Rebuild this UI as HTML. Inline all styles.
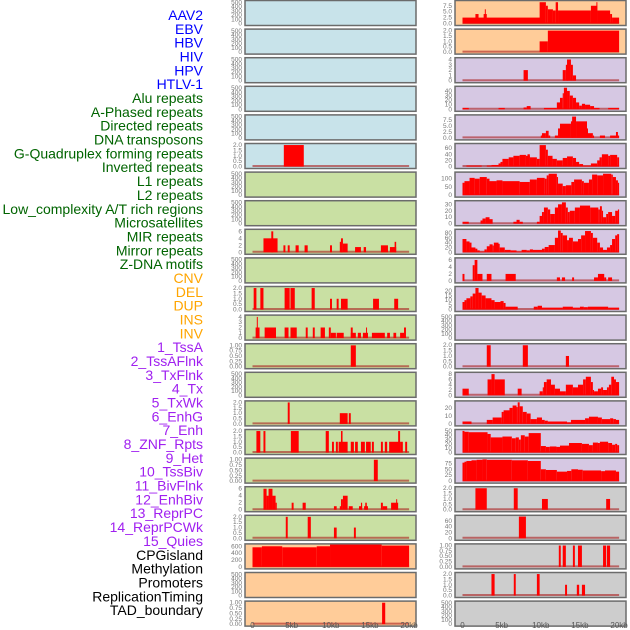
<!DOCTYPE html>
<html><head><meta charset="utf-8">
<style>
html,body{margin:0;padding:0;background:#fff;}
svg{display:block;font-family:"Liberation Sans",sans-serif;}
</style></head>
<body>
<svg id="chart" width="630" height="630" viewBox="0 0 630 630" xmlns="http://www.w3.org/2000/svg"></svg>
<script>
// ---- data (positions in kb, values on each panel's y scale) ----
const rowLabels = ["AAV2","EBV","HBV","HIV","HPV","HTLV-1","Alu repeats","A-Phased repeats","Directed repeats","DNA transposons","G-Quadruplex forming repeats","Inverted repeats","L1 repeats","L2 repeats","Low_complexity A/T rich regions","Microsatellites","MIR repeats","Mirror repeats","Z-DNA motifs","CNV","DEL","DUP","INS","INV","1_TssA","2_TssAFlnk","3_TxFlnk","4_Tx","5_TxWk","6_EnhG","7_Enh","8_ZNF_Rpts","9_Het","10_TssBiv","11_BivFlnk","12_EnhBiv","13_ReprPC","14_ReprPCWk","15_Quies","CPGisland","Methylation","Promoters","ReplicationTiming","TAD_boundary"];
const labelGroups = [6,13,5,15,5];
const xTickKb = [0,5,10,15,20];
const xTickLabels = ["0","5kb","10kb","15kb","20kb"];

const L5 = [[4.0,6.55,2]];
const L8 = [[1.4,3.2,4],[2.4,2.65,6],[3.95,4.2,2],[4.5,4.75,2],[5.5,5.9,2],[6.65,7.05,2],[9.9,10.15,2],[11.15,11.5,3],[11.3,11.55,4],[11.55,12.15,2.5],[13.1,13.85,1.5],[14.2,14.5,1.5],[16.4,17.3,2],[17.55,18.35,1.5],[18.15,18.35,3]];
const L10 = [[0.15,0.5,2],[1.0,1.4,2],[4.1,4.75,2],[4.85,5.4,2],[7.55,7.95,2],[9.9,10.15,1],[10.75,11.0,1],[11.3,12.15,1],[15.4,16.15,1],[18.1,18.6,1]];
const L11 = [[0.4,0.9,2],[0.55,0.65,4],[1.55,3.0,2],[4.1,4.6,2],[4.85,5.65,2],[6.8,7.05,2],[7.7,7.95,2],[8.7,9.25,2],[9.75,10.0,2],[10.0,10.65,1],[10.75,11.65,1],[12.55,13.2,1],[12.55,12.8,2],[13.45,13.85,1],[14.1,14.75,1],[14.5,14.6,2],[15.25,16.9,1],[17.2,17.55,1],[18.0,18.35,1],[18.85,19.35,1],[19.35,19.6,2]];
const L12 = [[12.55,13.2,1]];
const L14 = [[4.5,4.75,2],[11.15,12.15,1],[12.3,12.55,1]];
const L15 = [[0.5,1.0,2],[1.4,1.65,2],[4.9,5.9,2],[9.35,9.75,2],[10.15,10.4,1],[10.65,10.9,1],[11.0,12.15,1],[11.3,11.5,2],[12.55,12.95,1],[13.1,13.45,1],[13.85,14.35,1],[14.5,15.1,1],[15.25,15.5,1],[16.4,16.65,1],[16.9,17.2,1],[17.45,18.85,1],[18.6,18.85,2],[18.85,19.2,1],[19.5,19.75,1]];
const L16 = [[15.5,16.0,1]];
const L17 = [[1.4,1.8,6],[1.8,2.05,4],[2.05,2.55,6],[2.55,2.95,4],[2.95,3.1,2],[5.0,5.25,2],[6.4,6.8,2],[10.4,10.75,1],[11.15,11.3,1],[11.3,11.55,3],[11.55,12.15,4],[12.3,12.8,1],[13.6,14.0,1],[13.85,14.0,2],[14.25,14.75,1],[14.4,14.6,2],[16.4,16.65,2],[16.65,17.2,1],[17.7,18.6,2],[18.35,18.45,3]];
const L18 = [[4.25,4.5,2],[7.05,7.45,2],[10.4,10.75,1],[12.95,13.2,1]];
const L19 = [[0,1.2,570],[1.2,3.8,600],[3.8,8.2,570],[8.2,9.9,600],[9.9,16.5,650],[16.5,20.0,620]];
const L21 = [[16.55,16.95,1]];

const R0 = [[0,10,2.5],[1.65,2.05,4],[2.7,3.1,4],[2.85,2.95,6],[9.85,10.65,9],[10.65,10.9,7.5],[10.9,11.55,6],[11.55,11.9,5.5],[11.9,12.2,9],[12.2,16.4,5.5],[16.4,17.2,7.5],[17.1,17.2,9],[17.2,18.85,5.5],[18.85,19.1,4],[19.1,20.0,2.5]];
const R1 = [[9.85,10.9,1],[10.9,20.0,2]];
const R2 = [[7.8,8.35,2],[12.8,13.2,2],[13.2,13.45,3],[13.35,13.85,4],[13.85,14.1,3],[14.1,14.5,1]];
const R3 = [[0,0.8,3],[4.6,5.4,3],[7.8,8.2,4],[8.2,8.7,7],[10.4,12.05,3],[12.05,12.45,15],[12.45,12.8,25],[12.8,12.95,35],[12.95,13.35,47],[13.35,13.7,40],[13.7,14.1,30],[14.1,14.5,25],[14.5,14.9,15],[14.9,15.25,8],[15.25,15.65,12],[15.65,16.3,10],[16.3,16.8,7],[16.8,17.5,3],[18.6,20.0,3]];
const R4 = [[10.0,10.15,1],[10.15,10.65,2],[10.65,11.0,3],[11.0,11.2,1],[11.8,12.2,1],[12.2,12.45,4],[12.45,13.85,6],[13.85,14.1,7],[14.0,14.5,9],[14.5,15.9,7],[15.9,16.0,4],[16.0,16.65,2],[16.65,16.8,1],[17.55,18.2,1],[18.85,19.6,1],[19.6,19.85,2.5],[19.85,20.0,1]];
const R5 = [[0.5,2.45,3],[3.1,3.7,3],[3.7,4.6,5],[4.6,4.85,10],[4.85,5.1,15],[5.1,5.9,25],[5.9,6.5,30],[6.5,7.3,35],[7.3,8.1,38],[8.1,8.6,35],[8.3,8.6,40],[8.6,9.5,30],[9.5,9.85,25],[9.85,10.65,70],[10.65,10.9,55],[10.9,11.5,35],[11.5,12.05,25],[12.05,12.8,20],[12.8,13.35,28],[13.35,14.1,33],[14.1,14.5,28],[14.5,14.9,15],[14.9,15.4,8],[15.4,16.4,3],[16.4,17.2,10],[17.2,17.5,20],[17.5,17.8,30],[17.8,18.6,40],[18.6,18.85,35],[18.85,19.75,38],[19.75,20.0,30]];
const R6 = [[0,0.25,75],[0.25,0.9,85],[0.9,1.55,105],[1.55,2.2,100],[2.2,3.1,110],[3.1,3.45,100],[3.45,4.35,85],[4.35,5.1,90],[5.1,7.3,85],[7.3,8.6,80],[8.6,9.5,95],[9.5,10.5,105],[10.5,10.75,100],[10.75,11.0,120],[11.0,12.05,130],[12.05,12.2,110],[12.2,12.8,70],[12.8,13.2,55],[13.2,13.9,60],[13.9,14.25,80],[14.25,15.25,95],[15.25,15.5,85],[15.5,16.15,75],[16.15,16.55,95],[16.55,17.2,125],[17.2,17.95,120],[17.95,19.0,130],[19.0,19.2,125],[19.2,19.6,110],[19.6,19.85,90],[19.85,20.0,75]];
const R7 = [[0,0.8,3],[2.3,2.55,5],[2.55,2.95,8],[2.95,3.45,10],[3.45,3.85,7],[6.5,6.9,3],[6.9,7.3,6],[7.3,7.7,3],[9.5,9.85,3],[9.85,10.15,12],[10.15,10.4,18],[10.4,10.9,25],[10.9,11.2,22],[11.2,11.8,15],[11.8,12.2,25],[12.2,12.7,30],[12.7,13.2,33],[13.2,13.45,25],[13.45,13.7,18],[13.7,14.35,20],[14.35,15.0,25],[15.0,16.3,28],[16.3,17.35,25],[17.35,17.55,22],[17.55,17.8,27],[17.8,17.95,20],[17.95,18.35,10],[18.35,18.6,15],[18.6,19.1,18],[19.1,19.5,12],[19.5,19.85,20],[19.85,20.0,22]];
const R8 = [[0,0.5,55],[0.5,0.9,45],[0.9,1.15,40],[1.15,1.65,20],[1.65,1.9,15],[1.9,2.2,8],[2.2,2.8,3],[2.8,3.1,12],[3.1,3.45,25],[3.45,3.85,33],[3.85,4.0,28],[4.0,4.6,40],[4.6,4.75,35],[4.75,5.4,20],[5.4,6.15,10],[6.15,6.9,8],[6.9,7.55,3],[7.55,8.2,10],[8.2,8.6,8],[8.6,9.0,12],[9.0,10.15,10],[10.15,10.5,15],[10.5,11.0,22],[11.0,11.8,30],[11.8,12.2,60],[12.2,12.55,90],[12.55,12.8,80],[12.8,13.35,70],[13.35,13.6,50],[13.6,14.1,60],[14.1,14.75,45],[14.75,15.15,55],[15.15,15.65,70],[15.65,16.4,88],[16.4,16.65,80],[16.65,17.2,60],[17.2,17.55,40],[17.55,17.95,20],[17.95,18.45,10],[18.45,18.85,20],[18.85,19.1,30],[19.1,19.5,55],[19.5,19.75,70],[19.75,20.0,75]];
const R9 = [[0,0.25,2],[1.3,1.55,4.5],[1.55,1.9,6],[1.9,2.55,2],[3.1,3.7,2],[5.5,6.8,2],[12.05,12.45,1],[12.7,13.1,1],[14.0,14.25,1],[16.8,17.3,1],[17.3,18.1,2],[18.1,18.35,1],[18.6,19.1,1]];
const R10 = [[0,0.25,8],[0.25,0.5,10],[0.5,1.0,12],[1.0,1.3,14],[1.3,1.65,17],[1.65,2.05,23],[2.05,2.45,18],[2.45,2.95,15],[2.95,3.7,12],[3.7,4.1,10],[4.1,4.85,8],[4.85,5.25,9],[5.25,5.5,7],[5.5,7.05,3],[9.1,9.6,3],[9.6,10.15,4],[10.15,12.8,2],[12.8,14.1,3],[14.1,15.0,2],[15.0,15.5,3],[15.5,16.0,2.5],[16.0,18.6,3],[18.6,20.0,2]];
const R12 = [[3.1,3.6,2],[7.7,8.35,2],[13.2,13.6,1]];
const R13 = [[0,0.8,2.5],[3.2,3.7,6],[3.7,4.1,8],[4.1,5.4,6],[7.05,7.55,2.5],[9.85,10.25,1.5],[10.25,10.4,3],[10.4,10.75,5],[10.75,11.3,6],[11.3,11.8,4],[11.8,12.45,2.5],[12.45,13.2,1.5],[13.2,14.1,4],[14.1,14.75,3],[14.75,15.4,4],[15.4,15.75,6],[15.75,16.4,7],[16.4,16.65,5],[16.65,16.8,2],[16.8,17.3,1.5],[17.3,17.7,2.5],[17.7,17.95,3],[17.95,18.45,2],[18.45,18.7,3],[18.7,19.0,4],[19.0,19.35,7],[19.35,19.6,6],[19.6,20.0,5]];
const R14 = [[0,1.15,3],[3.1,3.85,5],[3.85,5.0,8],[5.0,5.25,15],[5.25,6.0,17],[6.0,6.4,20],[6.4,6.9,23],[6.9,7.05,21],[7.05,7.3,27],[7.3,7.7,22],[7.7,8.2,15],[8.2,8.7,13],[8.7,9.5,6],[9.5,10.15,8],[10.15,10.5,5],[10.5,10.9,4],[10.9,13.35,3],[13.35,13.85,2],[13.85,15.65,5],[15.65,16.15,7],[16.15,17.3,9],[17.3,17.8,8],[17.8,18.85,6],[18.85,19.25,7],[19.25,19.6,6],[19.6,20.0,5]];
const R15 = [[0,0.25,50],[0.25,0.8,48],[0.8,3.2,47],[3.2,3.6,43],[3.6,5.1,35],[5.1,6.3,37],[6.3,6.8,33],[6.8,7.2,35],[7.2,7.45,30],[7.45,7.95,40],[7.95,8.45,37],[8.45,10.0,45],[10.0,10.65,15],[10.65,11.15,13],[11.15,12.0,14],[12.0,12.45,13],[12.45,13.6,16],[13.6,15.25,22],[15.25,16.15,20],[16.15,16.65,17],[16.65,17.3,23],[17.3,17.55,22],[17.55,18.6,25],[18.6,19.1,22],[19.1,19.5,18],[19.5,19.75,20],[19.75,20.0,17]];
const R16 = [[0,0.25,78],[0.25,0.5,82],[0.5,1.15,85],[1.15,1.8,88],[1.8,2.55,90],[2.55,3.1,92],[3.1,6.3,90],[6.3,8.35,88],[8.35,10.0,85],[10.0,10.65,50],[10.65,12.05,47],[12.05,13.35,40],[13.35,13.9,43],[13.9,14.75,50],[14.75,15.35,48],[15.35,17.7,45],[17.7,18.2,42],[18.2,19.6,45],[19.6,20.0,40]];
const R17 = [[1.65,3.1,2],[6.55,7.05,2],[10.15,10.9,1],[18.35,18.85,1]];
const R18 = [[7.2,8.1,75]];
const R19 = [[12.3,12.55,1],[12.8,13.2,1],[14.1,14.35,1],[14.75,15.25,1],[17.95,18.35,1],[18.45,18.85,1]];
const R20 = [[3.7,4.1,2],[6.55,6.8,2],[9.5,9.85,2],[13.1,13.35,1],[14.6,14.9,1],[15.25,15.65,1]];

const T500 = [0,100,200,300,400,500];
const T2 = [0,0.5,1,1.5,2];
const T1 = [0,0.25,0.5,0.75,1];
const T6 = [0,2,4,6];
const T4 = [0,1,2,3,4];
const T75 = [0,2.5,5,7.5];

// ---- layout helpers ----
const svg = document.getElementById('chart');
const NS = 'http://www.w3.org/2000/svg';
function mk(tag, attrs, parent){ const e=document.createElementNS(NS,tag); for(const k in attrs) e.setAttribute(k,attrs[k]); (parent||svg).appendChild(e); return e; }

const BG = {blue:'#c8e3ea', green:'#c9e0a3', orange:'#ffcc99', purple:'#d6c8e3', gray:'#cdcdcd'};
function fmt(v, ticks){
  const st = ticks[1]-ticks[0];
  if (st===0.25) return v.toFixed(2);
  if (st<1 || st===2.5) return v.toFixed(1);
  return String(v);
}
const leftPanels = [];
for(let i=0;i<22;i++){
  let bg = i<6?'blue':(i<19?'green':'orange');
  leftPanels.push({bg, data:[], ticks:T500, ymax:520});
}
Object.assign(leftPanels[5],{data:L5,ticks:T2,ymax:2.05});
Object.assign(leftPanels[8],{data:L8,ticks:T6,ymax:6.3});
Object.assign(leftPanels[10],{data:L10,ticks:T2,ymax:2.05});
Object.assign(leftPanels[11],{data:L11,ticks:T4,ymax:4.15});
Object.assign(leftPanels[12],{data:L12,ticks:T1,ymax:1.03});
Object.assign(leftPanels[14],{data:L14,ticks:T2,ymax:2.05});
Object.assign(leftPanels[15],{data:L15,ticks:T2,ymax:2.05});
Object.assign(leftPanels[16],{data:L16,ticks:T1,ymax:1.03});
Object.assign(leftPanels[17],{data:L17,ticks:T6,ymax:6.3});
Object.assign(leftPanels[18],{data:L18,ticks:T2,ymax:2.05});
Object.assign(leftPanels[19],{data:L19,ticks:[0,200,400,600],ymax:640});
Object.assign(leftPanels[21],{data:L21,ticks:T1,ymax:1.03});

const rightPanels = [];
for(let i=0;i<22;i++){
  let bg = i<2?'orange':(i<17?'purple':'gray');
  rightPanels.push({bg, data:[], ticks:T500, ymax:520});
}
const rcfg = [[0,R0,T75,9.3],[1,R1,T2,2.05],[2,R2,T4,4.15],[3,R3,[0,10,20,30,40],48],[4,R4,T75,9.3],[5,R5,[0,20,40,60],72],[6,R6,[0,50,100],134],[7,R7,[0,10,20,30],34],[8,R8,[0,20,40,60,80],91],[9,R9,T6,6.3],[10,R10,[0,5,10,15,20],23.5],[12,R12,T2,2.05],[13,R13,[0,2,4,6,8],8.3],[14,R14,[0,10,20],27.5],[15,R15,[0,10,20,30,40,50],51],[16,R16,[0,25,50,75],93],[17,R17,T2,2.05],[18,R18,[0,20,40,60],76],[19,R19,T1,1.03],[20,R20,T2,2.05]];
rcfg.forEach(c=>Object.assign(rightPanels[c[0]],{data:c[1],ticks:c[2],ymax:c[3]}));

const PITCH = 28.6, PH = 25;
function xScale(x0){ return kb => x0 + kb*7.83; }

function drawPanel(p, i, side){
  const left = side==='left' ? 245 : 455;
  const x0 = side==='left' ? 252.5 : 462.5;
  const sx = xScale(x0);
  const T = i*PITCH + 0.5;
  const y0 = T + 23, ySpan = 22;
  const sy = v => y0 - Math.min(v/p.ymax,1.05)*ySpan;
  const g = mk('g',{});
  
  
  const bg = mk('rect',{x:left,y:T,width:171,height:PH,fill:BG[p.bg],stroke:'#6b6b6b','stroke-width':1.5},g);
  
  
  p.ticks.forEach(t=>{
    const tl = mk('text',{x:left-3,y:sy(t)+2,'font-size':6.5,fill:'#777','text-anchor':'end'},g);
    tl.textContent = fmt(t,p.ticks);
    
    
  });
  if(p.data.length){
    const bl = mk('line',{x1:sx(0),x2:sx(20),y1:y0-0.5,y2:y0-0.5,stroke:'rgba(170,30,30,0.6)','stroke-width':2},g);
    
    
  }
  p.data.forEach(d=>{
    const xa = sx(d[0]), xb = sx(d[1]);
    const yt = sy(d[2]);
    const r = mk('rect',{x:xa,y:yt,width:Math.max(xb-xa,1),height:y0-yt,fill:'#ff0000'},g);
    
    
  });
}
leftPanels.forEach((p,i)=>drawPanel(p,i,'left'));
rightPanels.forEach((p,i)=>drawPanel(p,i,'right'));

['left','right'].forEach(side=>{
  const sx = xScale(side==='left'?252.5:462.5);
  xTickKb.forEach((k,j)=>{
    const t = mk('text',{x:sx(k),y:628,'font-size':8,fill:'#555','text-anchor':'middle'});
    t.textContent = xTickLabels[j];
    
    
  });
});

const groupColors = ['#0000ff','#006400','#ffa500','#a020f0','#000000'];
let idx=0;
labelGroups.forEach((n,gi)=>{
  for(let j=0;j<n;j++){
    const t = mk('text',{x:203,y:15+idx*13.84+5,'font-size':14,fill:groupColors[gi],'text-anchor':'end'});
    t.textContent = rowLabels[idx];
    
    
    idx++;
  }
});
</script>
</body></html>
